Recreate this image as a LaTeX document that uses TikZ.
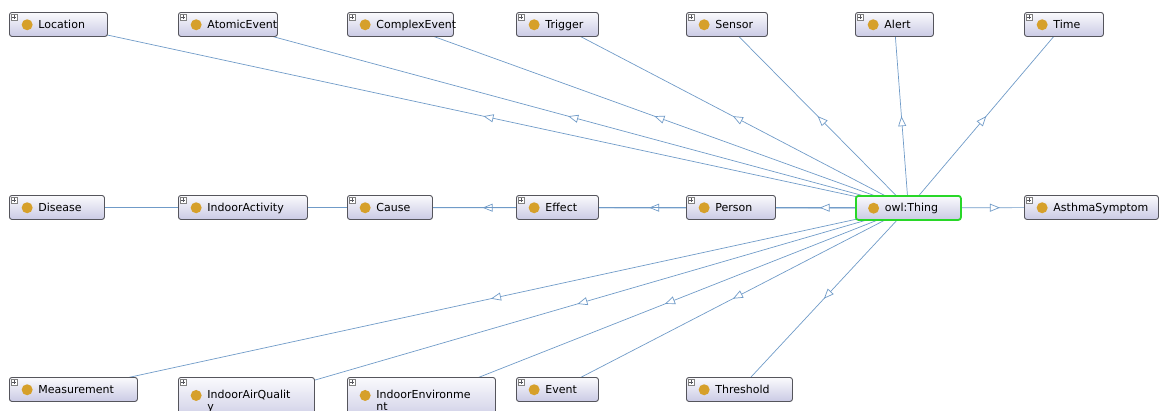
\documentclass[tikz,border=0pt]{standalone}
\usepackage{fontspec}
\setmainfont{DejaVu Sans}
\usetikzlibrary{arrows.meta,decorations.markings,backgrounds}

\definecolor{edgeblue}{RGB}{112,155,200}
\definecolor{boxline}{RGB}{85,85,92}
\definecolor{boxtop}{RGB}{250,250,253}
\definecolor{boxbot}{RGB}{202,202,228}
\definecolor{classdot}{RGB}{214,160,42}
\definecolor{thinggreen}{RGB}{40,215,40}

\tikzset{
  dot drop/.store in=\dotdrop, dot drop=12.3pt,
  clsbase/.style={draw=boxline, line width=0.9pt, rounded corners=2.5pt,
    top color=boxtop, bottom color=boxbot, anchor=north west,
    inner xsep=3pt, inner ysep=6pt, text height=10pt, text depth=2pt,
    align=left, font=\fontsize{11}{13.5}\selectfont,
    execute at begin node={\hyphenpenalty=10000\relax\hspace*{26pt}}},
  cls/.style={clsbase, path picture={
    \coordinate (nw) at (path picture bounding box.north west);
    \filldraw[sharp corners, draw=gray, fill=white, line width=0.4pt]
      ([shift={(2pt,-2pt)}]nw) rectangle ++(6pt,-6pt);
    \draw[sharp corners, line width=0.6pt]
      ([shift={(3pt,-5pt)}]nw) -- ++(4pt,0pt)
      ([shift={(5pt,-3pt)}]nw) -- ++(0pt,-4pt);
    \fill[classdot] ([shift={(17.7pt,-\dotdrop)}]nw) circle (5.5pt);}},
  root/.style={clsbase, draw=thinggreen, line width=1.8pt, path picture={
    \coordinate (nw) at (path picture bounding box.north west);
    \fill[classdot] ([shift={(17.7pt,-12.3pt)}]nw) circle (5.5pt);}},
  twoline/.style={text height=15pt, text depth=18pt, dot drop=18pt,
    font=\fontsize{11}{12}\selectfont},
  isa/.style={draw=edgeblue, line width=0.7pt, postaction={decorate},
    decoration={markings, mark=at position 0.5 with
      {\arrow[edgeblue, line width=0.7pt]{Triangle[length=10pt, width=8pt, fill=white]}}}}
}

\begin{document}
\begin{tikzpicture}[x=1pt, y=-1pt]
  \useasboundingbox (0,0) rectangle (1161,410);
  \clip (0,0) rectangle (1161,410);

  % top row
  \node[cls, text width=92pt] (location) at (9,12) {Location};
  \node[cls, text width=93pt] (atomicevent) at (178,12) {AtomicEvent};
  \node[cls, text width=100pt] (complexevent) at (347,12) {ComplexEvent};
  \node[cls, text width=76pt] (trigger) at (516,12) {Trigger};
  \node[cls, text width=75pt] (sensor) at (686,12) {Sensor};
  \node[cls, text width=72pt] (alert) at (855,12) {Alert};
  \node[cls, text width=73pt] (time) at (1024,12) {Time};

  % middle row
  \node[cls, text width=89pt] (disease) at (9,195) {Disease};
  \node[cls, text width=123pt] (indooractivity) at (178,195) {IndoorActivity};
  \node[cls, text width=79pt] (cause) at (347,195) {Cause};
  \node[cls, text width=76pt] (effect) at (516,195) {Effect};
  \node[cls, text width=83pt] (person) at (686,195) {Person};
  \node[root, text width=99pt] (thing) at (855,195) {owl:Thing};
  \node[cls, text width=128pt] (asthmasymptom) at (1024,195) {AsthmaSymptom};

  % bottom row
  \node[cls, text width=122pt] (measurement) at (9,377) {Measurement};
  \node[cls, twoline, text width=130pt] (indoorairquality) at (178,377)
    {IndoorAirQualit\\\hspace*{26pt}y};
  \node[cls, twoline, text width=142pt] (indoorenvironment) at (347,377)
    {IndoorEnvironme\\\hspace*{26pt}nt};
  \node[cls, text width=76pt] (event) at (516,377) {Event};
  \node[cls, text width=100pt] (threshold) at (686,377) {Threshold};

  % subclass edges, behind the boxes
  \begin{scope}[on background layer]
    \foreach \c in {location,atomicevent,complexevent,trigger,sensor,alert,time,
                    disease,indooractivity,cause,effect,person,asthmasymptom,
                    measurement,indoorairquality,indoorenvironment,event,threshold}
      \draw[isa] (thing.center) -- (\c.center);
  \end{scope}
\end{tikzpicture}
\end{document}
